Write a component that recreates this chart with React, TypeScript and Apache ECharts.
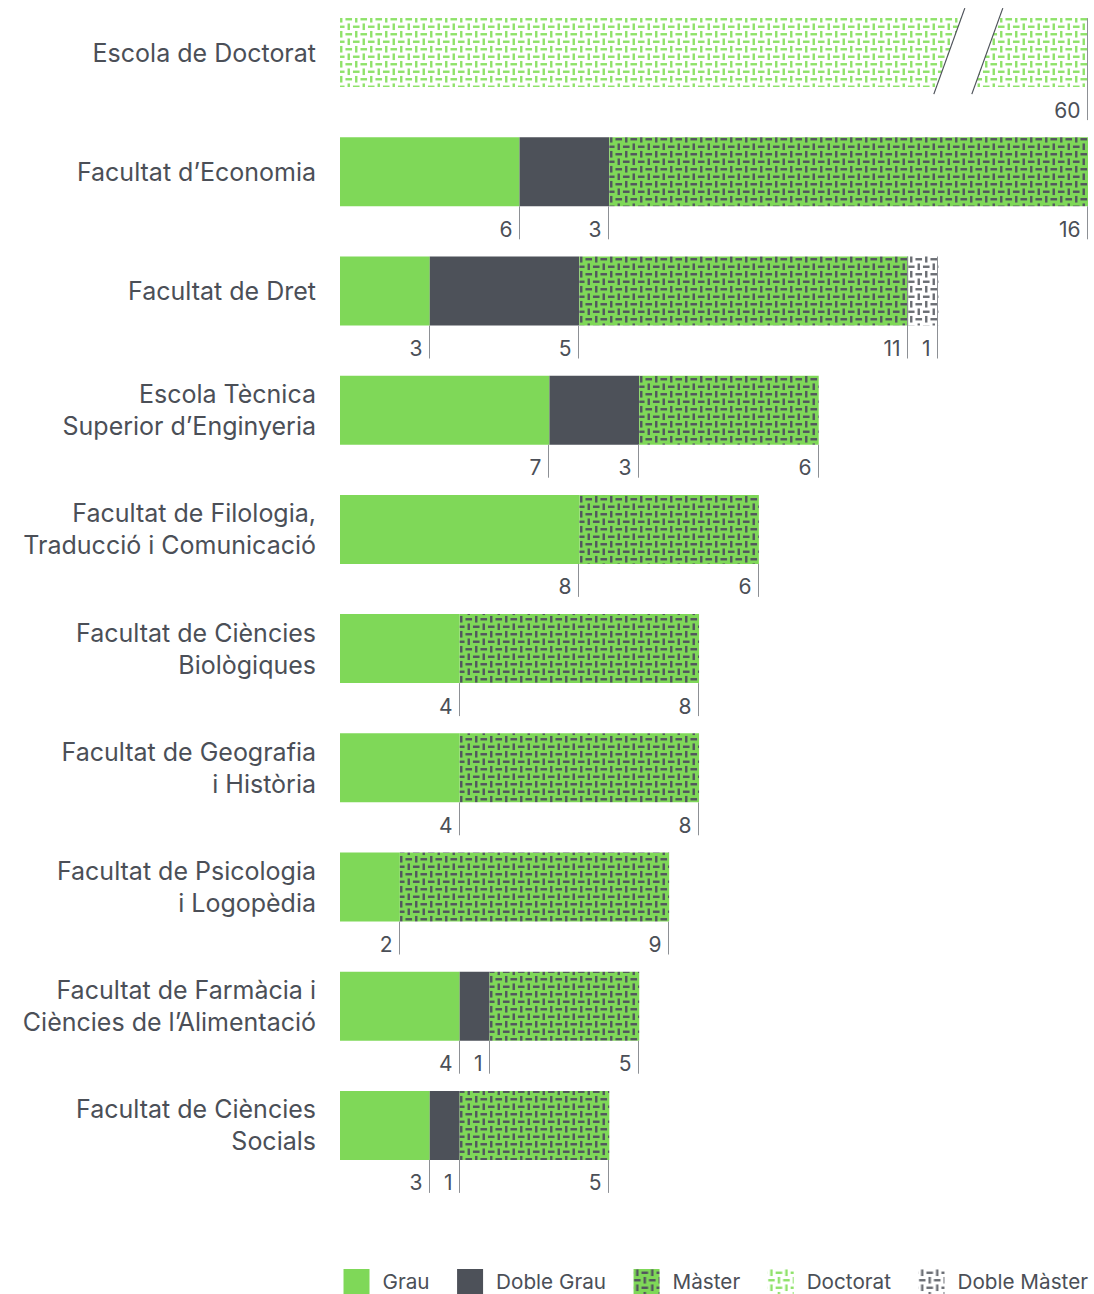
import React, { useEffect, useRef } from "react";
import * as echarts from "echarts";

const categories = [
  "Escola de Doctorat",
  "Facultat d’Economia",
  "Facultat de Dret",
  "Escola Tècnica\nSuperior d’Enginyeria",
  "Facultat de Filologia,\nTraducció i Comunicació",
  "Facultat de Ciències\nBiològiques",
  "Facultat de Geografia\ni Història",
  "Facultat de Psicologia\ni Logopèdia",
  "Facultat de Farmàcia i\nCiències de l’Alimentació",
  "Facultat de Ciències\nSocials",
];
const seriesNames = ["Grau", "Doble Grau", "Màster", "Doctorat", "Doble Màster"];
const grau = [0, 6, 3, 7, 8, 4, 4, 2, 4, 3];
const dobleGrau = [0, 3, 5, 3, 0, 0, 0, 0, 1, 1];
const master = [0, 16, 11, 6, 6, 8, 8, 9, 5, 5];
const doctorat = [60, 0, 0, 0, 0, 0, 0, 0, 0, 0];
const dobleMaster = [0, 0, 1, 0, 0, 0, 0, 0, 0, 0];
// axis break for the out-of-scale Doctorat bar (value position on the axis)
const breakAt = 21;

const FONT = "Inter, 'Noto Sans', sans-serif";
const TEXT = "#4b4f57";
const BAR_H = 69;

function makePattern(bg: string | null, fg: string) {
  const c = document.createElement("canvas");
  c.width = 15;
  c.height = 15;
  const ctx = c.getContext("2d")!;
  if (bg) {
    ctx.fillStyle = bg;
    ctx.fillRect(0, 0, 15, 15);
  }
  ctx.fillStyle = fg;
  const L = 6.6;
  const T = 2.4;
  const o = (7.5 - L) / 2;
  const m = (7.5 - T) / 2;
  ctx.fillRect(m, o, T, L);
  ctx.fillRect(7.5 + o, m, L, T);
  ctx.fillRect(o, 7.5 + m, L, T);
  ctx.fillRect(7.5 + m, 7.5 + o, T, L);
  return { image: c, repeat: "repeat" } as any;
}

export default function App() {
  const ref = useRef<HTMLDivElement>(null);
  useEffect(() => {
    document.body.style.margin = "0";
    document.body.style.overflow = "hidden";
    const chart = echarts.init(ref.current!, null, { renderer: "svg" });
    const all = [grau, dobleGrau, master, doctorat, dobleMaster];
    const others = categories.map((_, i) => grau[i] + dobleGrau[i] + master[i] + dobleMaster[i]);
    const axisMax = Math.max(...others);
    const shownDoctorat = doctorat.map((v) => Math.min(v, axisMax));
    const shown = [grau, dobleGrau, master, shownDoctorat, dobleMaster];
    const colors: any[] = [
      "#7fd858",
      "#4d5159",
      makePattern("#7fd858", "#52565e"),
      makePattern("#ffffff", "#8fe26a"),
      makePattern("#ffffff", "#6b6e74"),
    ];
    // label items: [cumulativeEnd, catIndex, value, fromTop]
    const labels: any[] = [];
    categories.forEach((_, i) => {
      let cum = 0;
      for (let s = 0; s < 5; s++) {
        const v = all[s][i];
        if (!v) continue;
        cum += shown[s][i];
        const nextWhite = s === 2 && dobleMaster[i] > 0;
        const fromTop = s === 3 || s === 4 || nextWhite ? 1 : 0;
        labels.push([cum, i, v, fromTop]);
      }
    });

    const barSeries = seriesNames.map((name, s) => ({
      name,
      type: "bar",
      stack: "total",
      barWidth: BAR_H,
      data: shown[s],
      itemStyle: { color: colors[s] },
      emphasis: { disabled: true },
    }));

    chart.setOption({
      animation: false,
      grid: { left: 340, right: 6, top: 0, height: 1192, containLabel: false },
      xAxis: { type: "value", min: 0, max: axisMax, show: false },
      yAxis: {
        type: "category",
        data: categories,
        inverse: true,
        axisLine: { show: false },
        axisTick: { show: false },
        splitLine: { show: false },
        axisLabel: {
          fontSize: 25,
          lineHeight: 32,
          margin: 24,
          color: TEXT,
          fontFamily: FONT,
          align: "right",
        },
      },
      legend: {
        data: seriesNames,
        right: 6,
        top: 1276,
        padding: 0,
        itemWidth: 26,
        itemHeight: 25,
        itemGap: 27.5,
        icon: "rect",
        textStyle: { fontSize: 20.7, color: TEXT, fontFamily: FONT, padding: [0, 0, 0, 8] },
        selectedMode: false,
      },
      series: [
        ...barSeries,
        {
          type: "custom",
          name: "labels",
          data: labels,
          clip: false,
          z: 5,
          silent: true,
          renderItem: (params: any, api: any) => {
            const c = api.coord([api.value(0), api.value(1)]);
            const top = c[1] - BAR_H / 2;
            const bottom = c[1] + BAR_H / 2;
            const x = Math.round(c[0]) - 0.5;
            return {
              type: "group",
              children: [
                {
                  type: "line",
                  shape: { x1: x, y1: api.value(3) ? top : bottom, x2: x, y2: bottom + 33 },
                  style: { stroke: "#8d9095", lineWidth: 1 },
                },
                {
                  type: "text",
                  x: x - 7,
                  y: bottom + 23,
                  style: {
                    text: String(api.value(2)),
                    fontSize: 21,
                    fontFamily: FONT,
                    fill: TEXT,
                    align: "right",
                    verticalAlign: "middle",
                  },
                },
              ],
            };
          },
        },
        {
          type: "custom",
          name: "break",
          data: [[breakAt, 0]],
          clip: false,
          z: 6,
          silent: true,
          renderItem: (params: any, api: any) => {
            const c = api.coord([api.value(0), api.value(1)]);
            const top = c[1] - BAR_H / 2 - 10;
            const bottom = c[1] + BAR_H / 2 + 7;
            const half = 15.5;
            const g = 19;
            const l1 = [[c[0] - g + half, top], [c[0] - g - half, bottom]];
            const l2 = [[c[0] + g + half, top], [c[0] + g - half, bottom]];
            return {
              type: "group",
              children: [
                {
                  type: "polygon",
                  shape: { points: [l1[0], l2[0], l2[1], l1[1]] },
                  style: { fill: "#ffffff" },
                },
                {
                  type: "line",
                  shape: { x1: l1[0][0], y1: l1[0][1], x2: l1[1][0], y2: l1[1][1] },
                  style: { stroke: "#4d5159", lineWidth: 1.2 },
                },
                {
                  type: "line",
                  shape: { x1: l2[0][0], y1: l2[0][1], x2: l2[1][0], y2: l2[1][1] },
                  style: { stroke: "#4d5159", lineWidth: 1.2 },
                },
              ],
            };
          },
        },
      ],
    });
    return () => chart.dispose();
  }, []);
  return <div ref={ref} style={{ width: 1094, height: 1301, marginTop: -7 }} />;
}
